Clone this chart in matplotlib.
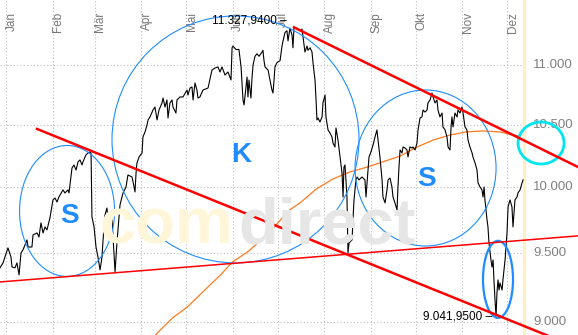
import matplotlib
matplotlib.use("Agg")
import matplotlib.pyplot as plt
from matplotlib.patches import Ellipse
from matplotlib.transforms import IdentityTransform

plt.rcParams['font.family'] = ['Liberation Sans', 'DejaVu Sans']

# ---------------- data (day of year, index level) ----------------
day = [-4.0, -2.0, 1.3, 3.3, 4.0, 6.0, 7.3, 8.7, 10.0, 11.3, 14.0, 14.7, 17.3, 18.0, 20.7, 22.0,
       23.3, 24.7, 26.0, 27.3, 29.3, 31.3, 32.7, 34.0, 35.3, 38.0, 39.3, 41.3, 42.0, 44.0, 45.3,
       46.7, 48.0, 49.3, 50.7, 51.3, 53.3, 54.7, 56.0, 56.7, 57.3, 58.7, 60.0, 61.3, 62.7, 64.0,
       64.7, 66.0, 67.3, 68.0, 69.3, 70.7, 71.3, 72.7, 74.0, 76.0, 78.0, 80.0, 81.3, 84.0, 84.7,
       86.0, 86.7, 87.3, 88.7, 90.7, 91.3, 92.7, 94.0, 94.7, 96.0, 98.0, 99.3, 100.7, 102.0, 104.0,
       104.7, 106.0, 107.3, 108.0, 109.3, 110.7, 111.3, 113.3, 114.0, 116.0, 118.0, 120.7, 121.3,
       122.7, 124.0, 124.7, 126.0, 127.3, 128.0, 129.3, 131.3, 134.7, 137.3, 139.3, 141.3, 142.7,
       144.0, 146.0, 148.0, 150.0, 150.7, 151.3, 153.3, 155.3, 156.7, 158.0, 158.7, 160.0, 160.7,
       161.3, 162.0, 163.3, 164.0, 164.7, 166.0, 167.3, 168.7, 170.7, 171.3, 172.0, 172.7, 174.7,
       176.0, 177.3, 178.0, 178.7, 179.3, 180.7, 182.7, 184.0, 184.7, 186.0, 187.3, 188.0, 189.3,
       190.7, 191.3, 192.0, 194.0, 196.0, 197.3, 198.0, 199.3, 200.7, 201.3, 202.7, 204.0, 204.7,
       206.0, 206.7, 207.3, 208.0, 209.3, 210.7, 211.3, 212.7, 213.3, 214.7, 216.0, 217.3, 218.0,
       219.3, 220.0, 221.3, 222.7, 224.0, 224.7, 225.3, 226.0, 227.3, 228.0, 228.7, 230.7, 231.3,
       232.0, 233.3, 234.0, 235.3, 237.3, 239.3, 240.0, 240.7, 242.0, 243.3, 244.7, 246.0, 247.3,
       248.0, 249.3, 250.7, 251.3, 252.7, 254.0, 254.7, 256.0, 257.3, 258.0, 259.3, 260.7, 261.3,
       262.0, 262.7, 264.0, 264.7, 266.0, 267.3, 268.0, 269.3, 270.7, 271.3, 272.7, 274.0, 274.7,
       276.0, 277.3, 278.0, 279.3, 280.7, 281.3, 282.7, 284.0, 284.7, 286.0, 287.3, 288.0, 289.3,
       290.7, 291.3, 292.7, 294.0, 294.7, 296.0, 296.7, 297.3, 298.0, 299.3, 300.7, 301.3, 302.7,
       304.0, 304.7, 306.0, 307.3, 308.0, 309.3, 310.7, 311.3, 312.7, 314.0, 314.7, 316.0, 317.3,
       318.0, 318.7, 319.3, 320.0, 320.7, 321.3, 322.0, 323.3, 324.0, 324.7, 325.3, 326.0, 326.7,
       327.3, 328.0, 328.7, 329.3, 330.7, 331.3, 332.7, 334.0, 334.7, 336.0, 337.3, 338.0, 339.3,
       340.7, 341.3, 342.7, 344.0, 344.7]
close = [9389, 9425, 9536, 9469, 9395, 9389, 9425, 9337, 9499, 9521, 9596, 9543, 9543, 9633, 9648,
         9618, 9724, 9648, 9694, 9671, 9762, 9900, 9915, 9884, 9923, 9978, 9954, 9978, 9954, 10150,
         10174, 10134, 10198, 10214, 10174, 10198, 10254, 10270, 10278, 10270, 9770, 9694, 9543,
         9469, 9374, 9469, 9596, 9785, 9838, 9747, 9709, 9747, 9633, 9359, 9581, 9861, 9954, 10001,
         10095, 10079, 10040, 9962, 10111, 10190, 10238, 10270, 10399, 10440, 10497, 10538, 10563,
         10620, 10645, 10538, 10620, 10679, 10720, 10645, 10704, 10554, 10679, 10704, 10645, 10595,
         10704, 10729, 10729, 10787, 10745, 10804, 10813, 10704, 10847, 10787, 10720, 10729, 10787,
         10804, 10957, 10974, 10983, 10940, 10983, 10914, 10940, 10872, 11149, 11164, 11134, 11134,
         10983, 10704, 10662, 10813, 10897, 10729, 10872, 10720, 10889, 11000, 11075, 11097, 11075,
         11112, 11127, 11037, 10983, 10957, 10872, 10787, 10762, 10872, 10983, 11022, 11037, 11164,
         11209, 11283, 11298, 11209, 11320, 11261, 11149, 11327.94, 11320, 11298, 11313, 11246,
         11112, 11164, 11127, 11149, 11112, 11015, 10872, 10704, 10538, 10554, 10521, 10563, 10679,
         10745, 10563, 10456, 10431, 10399, 10350, 10318, 10472, 10375, 10238, 10111, 9923, 10158,
         10174, 9923, 9499, 9573, 9596, 9747, 9900, 10056, 10079, 10056, 10079, 10056, 9923, 10032,
         10238, 10278, 10334, 10399, 10456, 10375, 10238, 10056, 9923, 9877, 9978, 10056, 10071,
         10001, 9923, 9877, 9823, 10001, 10158, 10294, 10270, 10318, 10310, 10294, 10238, 10318,
         10310, 10318, 10294, 10350, 10456, 10554, 10563, 10620, 10603, 10620, 10679, 10704, 10762,
         10729, 10679, 10704, 10620, 10563, 10595, 10481, 10456, 10399, 10318, 10294, 10481, 10563,
         10481, 10595, 10563, 10620, 10595, 10645, 10595, 10481, 10456, 10375, 10318, 10270, 10238,
         10190, 10134, 10032, 10001, 9978, 9923, 10001, 9900, 9823, 9747, 9694, 9573, 9447, 9395,
         9447, 9301, 9157, 9041.95, 9206, 9301, 9228, 9279, 9228, 9301, 9447, 9648, 9846, 9900,
         9846, 9694, 9900, 9923, 9954, 9978, 10032, 10056]

ma_day = [99, 101, 111, 121, 134, 143, 151, 161, 174, 189, 196, 207, 218, 229, 241, 251, 263, 274,
          285, 296, 307, 318, 329, 338, 343]
ma200 = [8900, 8925, 9029, 9107, 9243, 9337, 9432, 9506, 9633, 9823, 9877, 9986, 10064, 10118,
         10158, 10198, 10246, 10318, 10375, 10415, 10440, 10448, 10440, 10415, 10407]

months = ["Jan", "Feb", "Mär", "Apr", "Mai", "Jun", "Jul", "Aug", "Sep", "Okt", "Nov", "Dez"]
month_start = [0, 31, 59, 90, 120, 151, 181, 212, 243, 273, 304, 334]
yticks = [9000, 9500, 10000, 10500, 11000]
ytick_labels = ["9.000", "9.500", "10.000", "10.500", "11.000"]

peak_day, peak_val = 192.0, 11327.94
low_day, low_val = 326.7, 9041.95

# trend lines (day, level)
res_day, res_val = [192.0, 381.3], [11327.94, 10158]
sup_day, sup_val = [20.7, 381.3], [10464, 8820]
base_day, base_val = [-4.0, 381.3], [9286, 9626]

# ---------------- figure ----------------
W, H = 578, 335
fig = plt.figure(figsize=(W / 100, H / 100), dpi=100)
ax = fig.add_axes([0, 0, 1, 1])
ax.set_yscale('log')
ax.set_xlim(-4, 381.33)
ax.set_ylim(8909.2, 11572.6)
ax.axis('off')

grid_kw = dict(color='#BDBDBD', lw=0.8, linestyles=(0, (1, 2)), zorder=1)
ax.hlines(yticks, -4, 346, **grid_kw)
ax.vlines(month_start, 8909.2, 11572.6, **grid_kw)

# today marker
ax.axvline(345.5, color='#FFEFC8', lw=2.4, zorder=1.5)

# watermark
fig.text(100 / W, 1 - 244 / H, "com", color='#FFF6DA', fontsize=47, fontweight='bold',
         va='baseline', ha='left', zorder=1.2)
fig.text(238 / W, 1 - 244 / H, "direct", color='#E6E6E6', fontsize=47, fontweight='bold',
         va='baseline', ha='left', zorder=1.2)

# month labels
for m, d in zip(months, month_start):
    ax.text(d + 3.7, 11572.6 * 0.9908, m, rotation=90, ha='center', va='top',
            fontsize=8.5, color='#777777', zorder=2)

# y labels
for v, lab in zip(yticks, ytick_labels):
    ax.text(351.3, v, lab, ha='left', va='center', fontsize=9.5, color='#808080', zorder=2)

# moving average and price
ax.plot(ma_day, ma200, color='#FF7A1E', lw=0.9, zorder=3)
ax.plot(day, close, color='black', lw=0.8, zorder=4)

# ellipses: (day, level, width px, height px, color, lw)
ellipses = [
    (40.7, 9815, 95, 131, '#1E8CFF', 0.8),
    (153.0, 10379, 247, 247, '#1E8CFF', 0.8),
    (279.7, 10150, 141, 156, '#1E8CFF', 0.8),
    (328.0, 9305, 30, 77, '#1E8CFF', 1.6),
    (356.7, 10350, 46, 42, '#00E5EE', 2.0),
]
fig.canvas.draw()
for d, v, w, h, c, lw in ellipses:
    cx, cy = ax.transData.transform((d, v))
    ax.add_patch(Ellipse((cx, cy), w, h, transform=IdentityTransform(), fill=False,
                         edgecolor=c, lw=lw, zorder=5))

# trend lines
ax.plot(res_day, res_val, color='#FF0000', lw=1.8, zorder=6, clip_on=False)
ax.plot(sup_day, sup_val, color='#FF0000', lw=1.8, zorder=6, clip_on=False)
ax.plot(base_day, base_val, color='#FF0000', lw=1.1, zorder=6, clip_on=False)

# letters
for d, v, s in [(42.3, 9777, "S"), (157.0, 10254, "K"), (280.0, 10064, "S")]:
    ax.text(d, v, s, ha='center', va='center', fontsize=20, fontweight='bold',
            color='#1E8CFF', zorder=7)

# high / low annotations
ax.annotate("11.327,9400 \u2013", xy=(peak_day, peak_val), xytext=(-5, 5),
            textcoords='offset points', ha='right', va='center', fontsize=8.5, zorder=8)
ax.annotate("9.041,9500 \u2013", xy=(low_day, low_val), xytext=(-3, 0),
            textcoords='offset points', ha='right', va='center', fontsize=8.5, zorder=8)

fig.savefig("out.png", dpi=100)
